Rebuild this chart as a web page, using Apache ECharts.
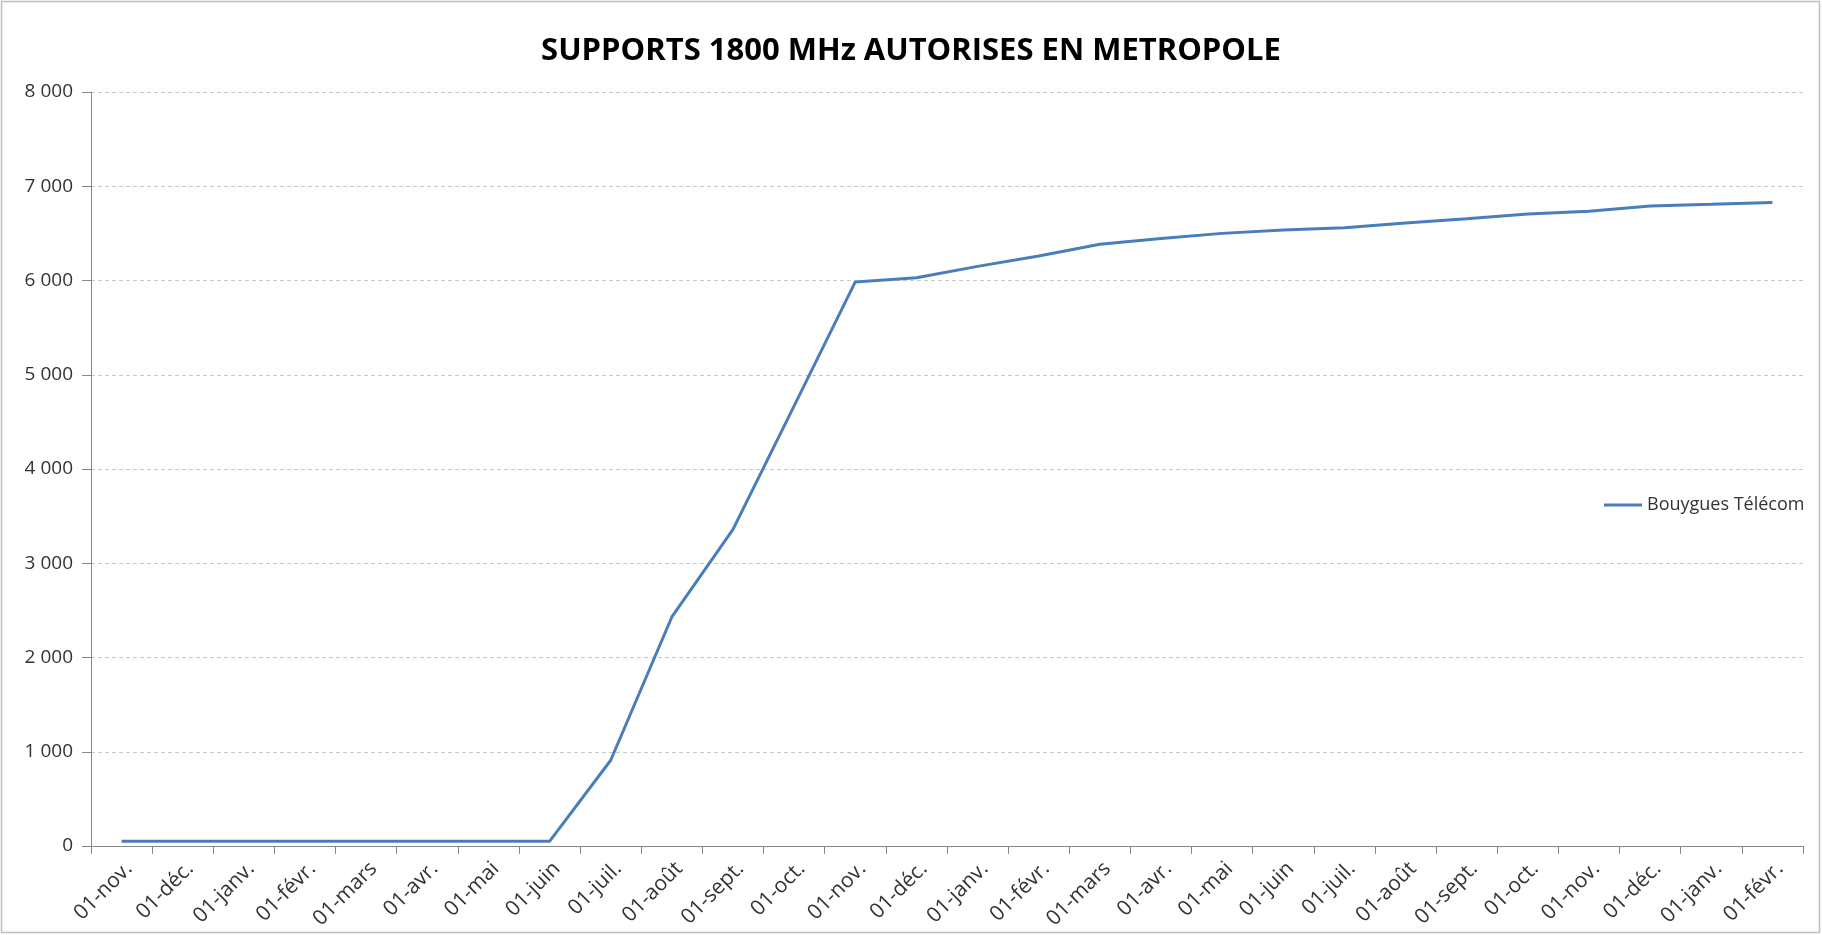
<!DOCTYPE html>
<html>
<head>
<meta charset="utf-8">
<script src="https://cdn.jsdelivr.net/npm/echarts@6/dist/echarts.min.js"></script>
<style>
html,body{margin:0;padding:0;background:#fff;}
#chart{width:1822px;height:935px;}
</style>
</head>
<body>
<div id="chart"></div>
<script>
const titleText = 'SUPPORTS 1800 MHz AUTORISES EN METROPOLE';
const seriesName = 'Bouygues Télécom';
const months = ['01-nov.','01-déc.','01-janv.','01-févr.','01-mars','01-avr.','01-mai','01-juin',
  '01-juil.','01-août','01-sept.','01-oct.','01-nov.','01-déc.','01-janv.','01-févr.',
  '01-mars','01-avr.','01-mai','01-juin','01-juil.','01-août','01-sept.','01-oct.',
  '01-nov.','01-déc.','01-janv.','01-févr.'];
const supports = [50,50,50,50,50,50,50,50,
  910,2430,3360,4670,5985,6030,6150,6260,
  6385,6445,6500,6535,6560,6610,6655,6705,
  6735,6790,6808,6828];
const yMin = 0, yMax = 8000, yStep = 1000;

function fmt(v){ return String(v).replace(/\B(?=(\d{3})+(?!\d))/g, '\u00a0'); }

const chart = echarts.init(document.getElementById('chart'), null, {renderer:'canvas'});
chart.setOption({
  animation:false,
  backgroundColor:'#ffffff',
  textStyle:{fontFamily:'Open Sans'},
  graphic:[{type:'rect', shape:{x:1.5,y:1.5,width:1818,height:931}, style:{fill:'none', stroke:'#bfbfbf', lineWidth:1.5}, silent:true}],
  title:{text:titleText, left:'center', top:31, textStyle:{fontFamily:'Open Sans', fontSize:31, fontWeight:'bold', color:'#000'}},
  legend:{orient:'vertical', left:1599, top:491, icon:'rect', itemWidth:38, itemHeight:3,
    textStyle:{fontFamily:'Open Sans', fontSize:18, color:'#333'}, data:[seriesName]},
  grid:{left:91, right:19, top:92, bottom:89, containLabel:false},
  xAxis:{type:'category', data:months, boundaryGap:true,
    axisLine:{lineStyle:{color:'#868686', width:1}},
    axisTick:{show:true, length:8, lineStyle:{color:'#868686'}},
    axisLabel:{rotate:45, interval:0, fontSize:21, color:'#333', margin:12, align:'right', verticalAlign:'top', fontFamily:'Open Sans'},
    splitLine:{show:false}},
  yAxis:{type:'value', min:yMin, max:yMax, interval:yStep,
    axisLine:{show:true, lineStyle:{color:'#868686', width:1}},
    axisTick:{show:true, length:9, lineStyle:{color:'#868686'}},
    axisLabel:{fontSize:19, color:'#333', margin:18, formatter:fmt, fontFamily:'Open Sans'},
    splitLine:{show:true, lineStyle:{color:'#c8c8c8', type:[4,3], width:1}}},
  series:[{name:seriesName, type:'line', data:supports, symbol:'none',
    lineStyle:{color:'#4a7ebb', width:3}, itemStyle:{color:'#4a7ebb'}}]
});
</script>
</body>
</html>
